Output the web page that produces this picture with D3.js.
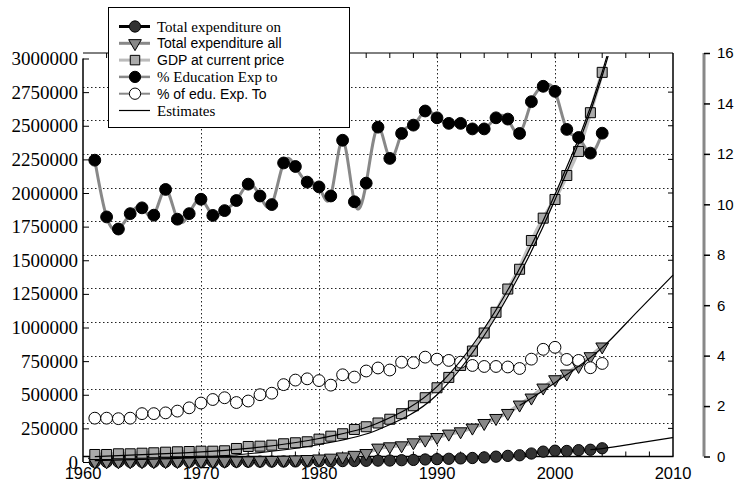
<!DOCTYPE html>
<html>
<head>
<meta charset="utf-8">
<script src="https://cdn.jsdelivr.net/npm/d3@7"></script>
<style>
  body { margin: 0; background: #fff; }
  svg { display: block; }
</style>
</head>
<body>
<div id="chart"></div>
<script>
// years of the observed series
var years = d3.range(1961, 2005);

// amounts (left axis)
var edu_total = [850, 850, 900, 930, 1100, 1150, 1250, 1350, 1500, 1700, 1800, 1950, 2150, 2550, 2900,
    3150, 3850, 4350, 4650, 5100, 5450, 6800, 7600, 8900, 10200, 10900, 13400, 15500, 18800, 21300,
    24000, 26800, 29800, 34200, 39700, 45600, 50000, 63000, 77000, 84000, 82000, 88000, 91000, 102000];
var exp_total = [3000, 3200, 3500, 3800, 4200, 4600, 5000, 5500, 6000, 6600, 7300, 8000, 9000, 10500, 12000,
    13500, 15500, 18000, 21000, 25000, 31000, 40000, 52000, 65500, 105700, 115400, 122800, 145200, 165300, 184600,
    210000, 227000, 254600, 288800, 326000, 363300, 425800, 477900, 552300, 614100, 656600, 713100, 785300, 857600];
var gdp = [55800, 55800, 61000, 61000, 65500, 68500, 73000, 76000, 78000, 80500, 80500, 83400, 100500, 115400, 117600,
    125000, 135500, 143000, 150400, 170000, 192000, 210000, 242000, 262000, 290000, 318000, 359000, 418000, 478000, 552000,
    629000, 718000, 825000, 959000, 1113000, 1286000, 1433000, 1647000, 1813000, 1952000, 2130000, 2309000, 2597000, 2897000];

// percentages (right axis)
var pct_of_exp = [11.75, 9.50, 9.02, 9.63, 9.86, 9.57, 10.59, 9.41, 9.63, 10.20, 9.56, 9.75, 10.15, 10.80, 10.33,
    9.99, 11.64, 11.50, 10.88, 10.69, 10.33, 12.54, 10.10, 10.84, 13.06, 11.82, 12.81, 13.14, 13.70, 13.43,
    13.21, 13.21, 12.99, 12.99, 13.43, 13.38, 12.81, 14.07, 14.68, 14.48, 12.97, 12.65, 12.03, 12.82];
var pct_of_gdp = [1.52, 1.52, 1.50, 1.52, 1.70, 1.70, 1.73, 1.80, 1.93, 2.12, 2.26, 2.33, 2.14, 2.20, 2.45,
    2.51, 2.85, 3.03, 3.08, 3.01, 2.83, 3.24, 3.15, 3.39, 3.51, 3.43, 3.74, 3.72, 3.94, 3.86,
    3.81, 3.74, 3.61, 3.57, 3.57, 3.55, 3.49, 3.86, 4.25, 4.33, 3.85, 3.81, 3.52, 3.69];

// estimate curves, read at a few years
var est_gdp_years = [1961, 1965, 1970, 1975, 1980, 1985, 1990, 1995, 2000, 2004, 2005];
var est_gdp_hi = [40000, 55000, 75000, 110000, 175000, 290000, 560000, 1130000, 1990000, 2900000, 3200000];
var est_gdp_lo = [10000, 20000, 35000, 70000, 130000, 240000, 500000, 1080000, 1950000, 2870000, 3170000];
var est_exp_years = [1997, 2000, 2004, 2007, 2010];
var est_exp = [420000, 590000, 850000, 1120000, 1390000];
var est_edu_years = [2003, 2004, 2007, 2010];
var est_edu = [92000, 100000, 140000, 182000];

var x_ticks = [1960, 1970, 1980, 1990, 2000, 2010];
var left_ticks = d3.range(0, 3000001, 250000);
var right_ticks = d3.range(0, 17, 2);

var legend_items = [
    {name: "Total expenditure on", serif: true},
    {name: "Total expenditure all", serif: false},
    {name: "GDP at current price", serif: false},
    {name: "% Education Exp to", serif: true},
    {name: "% of edu. Exp. To", serif: false},
    {name: "Estimates", serif: true}];

var serif = "'Liberation Serif', 'Times New Roman', serif";
var sans = "'Liberation Sans', Arial, sans-serif";

var svg = d3.select("#chart")
    .append("svg")
    .attr("width", 738)
    .attr("height", 483);

// frame box
var fx0 = 83, fx1 = 673, fy0 = 53, fy1 = 456.5;

var x = d3.scaleLinear().domain([1960, 2010]).range([fx0, fx1]);
// grid / frame scale
var yf = d3.scaleLinear().domain([0, 3000000]).range([fy1, fy0]);
// left axis scale (sits a little lower than the frame)
var yl = d3.scaleLinear().domain([0, 3000000]).range([462, 58.5]);
// right axis scale
var yr = d3.scaleLinear().domain([0, 16]).range([fy1, fy0]);

svg.append("defs").append("clipPath")
    .attr("id", "clip")
    .append("rect")
    .attr("x", fx0).attr("y", 56)
    .attr("width", fx1 - fx0 + 1).attr("height", 420);

// dotted grid
svg.append("g").selectAll("line.hg")
    .data(left_ticks.slice(1, -1))
    .join("line")
    .attr("x1", fx0).attr("x2", fx1)
    .attr("y1", function (d) { return Math.round(yf(d)) + 0.5; })
    .attr("y2", function (d) { return Math.round(yf(d)) + 0.5; })
    .attr("stroke", "#222")
    .attr("stroke-dasharray", "1.5,2.5");

svg.append("g").selectAll("line.vg")
    .data(x_ticks.slice(1, -1))
    .join("line")
    .attr("x1", function (d) { return Math.round(x(d)) + 0.5; })
    .attr("x2", function (d) { return Math.round(x(d)) + 0.5; })
    .attr("y1", fy0).attr("y2", fy1)
    .attr("stroke", "#222")
    .attr("stroke-dasharray", "1.5,2.5");

// frame lines
svg.append("line").attr("x1", fx0).attr("x2", fx1).attr("y1", fy0).attr("y2", fy0).attr("stroke", "#000");
svg.append("line").attr("x1", fx0).attr("x2", fx1 + 0.5).attr("y1", fy1).attr("y2", fy1).attr("stroke", "#000").attr("stroke-width", 1.5);
svg.append("line").attr("x1", fx1).attr("x2", fx1).attr("y1", fy0).attr("y2", fy1).attr("stroke", "#000").attr("stroke-width", 1.5);

// minor ticks on top and bottom every 2 years
var minor = d3.range(1962, 2010, 2);
svg.append("g").selectAll("line")
    .data(minor)
    .join("line")
    .attr("x1", function (d) { return x(d); })
    .attr("x2", function (d) { return x(d); })
    .attr("y1", fy0).attr("y2", fy0 + 5)
    .attr("stroke", "#000");
svg.append("g").selectAll("line")
    .data(minor)
    .join("line")
    .attr("x1", function (d) { return x(d); })
    .attr("x2", function (d) { return x(d); })
    .attr("y1", fy1).attr("y2", fy1 - 5)
    .attr("stroke", "#000");

// mirrored ticks on the right frame
svg.append("g").selectAll("line")
    .data(left_ticks.slice(1, -1))
    .join("line")
    .attr("x1", fx1 - 5).attr("x2", fx1)
    .attr("y1", function (d) { return yl(d); })
    .attr("y2", function (d) { return yl(d); })
    .attr("stroke", "#000");

// left axis
var left_axis = svg.append("g")
    .attr("transform", "translate(" + fx0 + ",0)")
    .call(d3.axisRight(yl).tickValues(left_ticks).tickFormat(d3.format("d")).tickSize(6));
left_axis.select(".domain").attr("stroke-width", 1.5).attr("d", "M0," + yl(0) + "V" + yl(3000000));
left_axis.selectAll("text")
    .attr("x", -5)
    .attr("text-anchor", "end")
    .style("font-family", serif)
    .style("font-size", "19px")
    .attr("fill", "#000");

// bottom labels
svg.append("g").selectAll("text")
    .data(x_ticks)
    .join("text")
    .attr("x", function (d) { return x(d); })
    .attr("y", 479)
    .attr("text-anchor", "middle")
    .style("font-family", sans)
    .style("font-size", "16.5px")
    .text(function (d) { return d; });

// right axis
var right_axis = svg.append("g")
    .attr("transform", "translate(704,0)")
    .call(d3.axisRight(yr).tickValues(right_ticks).tickSize(6).tickPadding(7));
right_axis.select(".domain").attr("stroke", "#888").attr("stroke-width", 3).attr("d", "M0," + yr(0) + "V" + yr(16));
right_axis.selectAll("line").attr("stroke-width", 1.5);
right_axis.selectAll("text")
    .style("font-family", sans)
    .style("font-size", "15px")
    .attr("fill", "#000");

// series
var series = [
    {vals: edu_total, y: yl, line: "#000", lw: 2.5, curve: d3.curveMonotoneX, sym: d3.symbolCircle, size: 100, fill: "#333", rot: 0},
    {vals: exp_total, y: yl, line: "#b4b4b4", lw: 4, curve: d3.curveBasis, sym: d3.symbolTriangle, size: 70, fill: "#888", rot: 180},
    {vals: gdp, y: yl, line: "#c0c0c0", lw: 4, curve: d3.curveBasis, sym: d3.symbolSquare, size: 100, fill: "#aaa", rot: 0},
    {vals: pct_of_exp, y: yr, line: "#888", lw: 3, curve: d3.curveNatural, sym: d3.symbolCircle, size: 110, fill: "#000", rot: 0},
    {vals: pct_of_gdp, y: yr, line: "#999", lw: 2, curve: d3.curveNatural, sym: d3.symbolCircle, size: 110, fill: "#fff", rot: 0}];

series.forEach(function (s) {
    var pts = years.map(function (yr_, i) { return [yr_, s.vals[i]]; });
    svg.append("path")
        .datum(pts)
        .attr("fill", "none")
        .attr("stroke", s.line)
        .attr("stroke-width", s.lw)
        .attr("d", d3.line().curve(s.curve)
            .x(function (d) { return x(d[0]); })
            .y(function (d) { return s.y(d[1]); }));
});

// estimates
var estimates = [
    {yrs: est_gdp_years, vals: est_gdp_lo},
    {yrs: est_gdp_years, vals: est_gdp_hi},
    {yrs: est_exp_years, vals: est_exp},
    {yrs: est_edu_years, vals: est_edu}];

series.forEach(function (s) {
    svg.append("g").selectAll("path")
        .data(years)
        .join("path")
        .attr("transform", function (d, i) {
            return "translate(" + x(d) + "," + s.y(s.vals[i]) + ") rotate(" + s.rot + ")";
        })
        .attr("d", d3.symbol().type(s.sym).size(s.size))
        .attr("fill", s.fill)
        .attr("stroke", "#000")
        .attr("stroke-width", 1);
});

estimates.forEach(function (e) {
    svg.append("path")
        .datum(e.yrs.map(function (yy, i) { return [yy, e.vals[i]]; }))
        .attr("clip-path", "url(#clip)")
        .attr("fill", "none")
        .attr("stroke", "#000")
        .attr("stroke-width", 1.2)
        .attr("d", d3.line().curve(d3.curveMonotoneX)
            .x(function (d) { return x(d[0]); })
            .y(function (d) { return yl(d[1]); }));
});

// legend
var lg = svg.append("g");
lg.append("rect")
    .attr("x", 108.5).attr("y", 7.5)
    .attr("width", 241).attr("height", 120)
    .attr("fill", "#fff")
    .attr("stroke", "#000");

var leg_styles = [
    {line: "#000", lw: 3, sym: d3.symbolCircle, size: 100, fill: "#333", rot: 0},
    {line: "#888", lw: 3, sym: d3.symbolTriangle, size: 70, fill: "#888", rot: 180},
    {line: "#bbb", lw: 3, sym: d3.symbolSquare, size: 90, fill: "#aaa", rot: 0},
    {line: "#888", lw: 2.5, sym: d3.symbolCircle, size: 100, fill: "#000", rot: 0},
    {line: "#888", lw: 2, sym: d3.symbolCircle, size: 100, fill: "#fff", rot: 0},
    {line: "#000", lw: 1.2, sym: null}];

legend_items.forEach(function (item, i) {
    var ly = 26.5 + i * 16.8;
    var st = leg_styles[i];
    lg.append("line")
        .attr("x1", 119).attr("x2", 150)
        .attr("y1", ly).attr("y2", ly)
        .attr("stroke", st.line)
        .attr("stroke-width", st.lw);
    if (st.sym) {
        lg.append("path")
            .attr("transform", "translate(135," + ly + ") rotate(" + st.rot + ")")
            .attr("d", d3.symbol().type(st.sym).size(st.size))
            .attr("fill", st.fill)
            .attr("stroke", "#000");
    }
    lg.append("text")
        .attr("x", 157)
        .attr("y", ly + 5)
        .style("font-family", item.serif ? serif : sans)
        .style("font-size", item.serif ? "15px" : "14px")
        .text(item.name);
});
</script>
</body>
</html>
